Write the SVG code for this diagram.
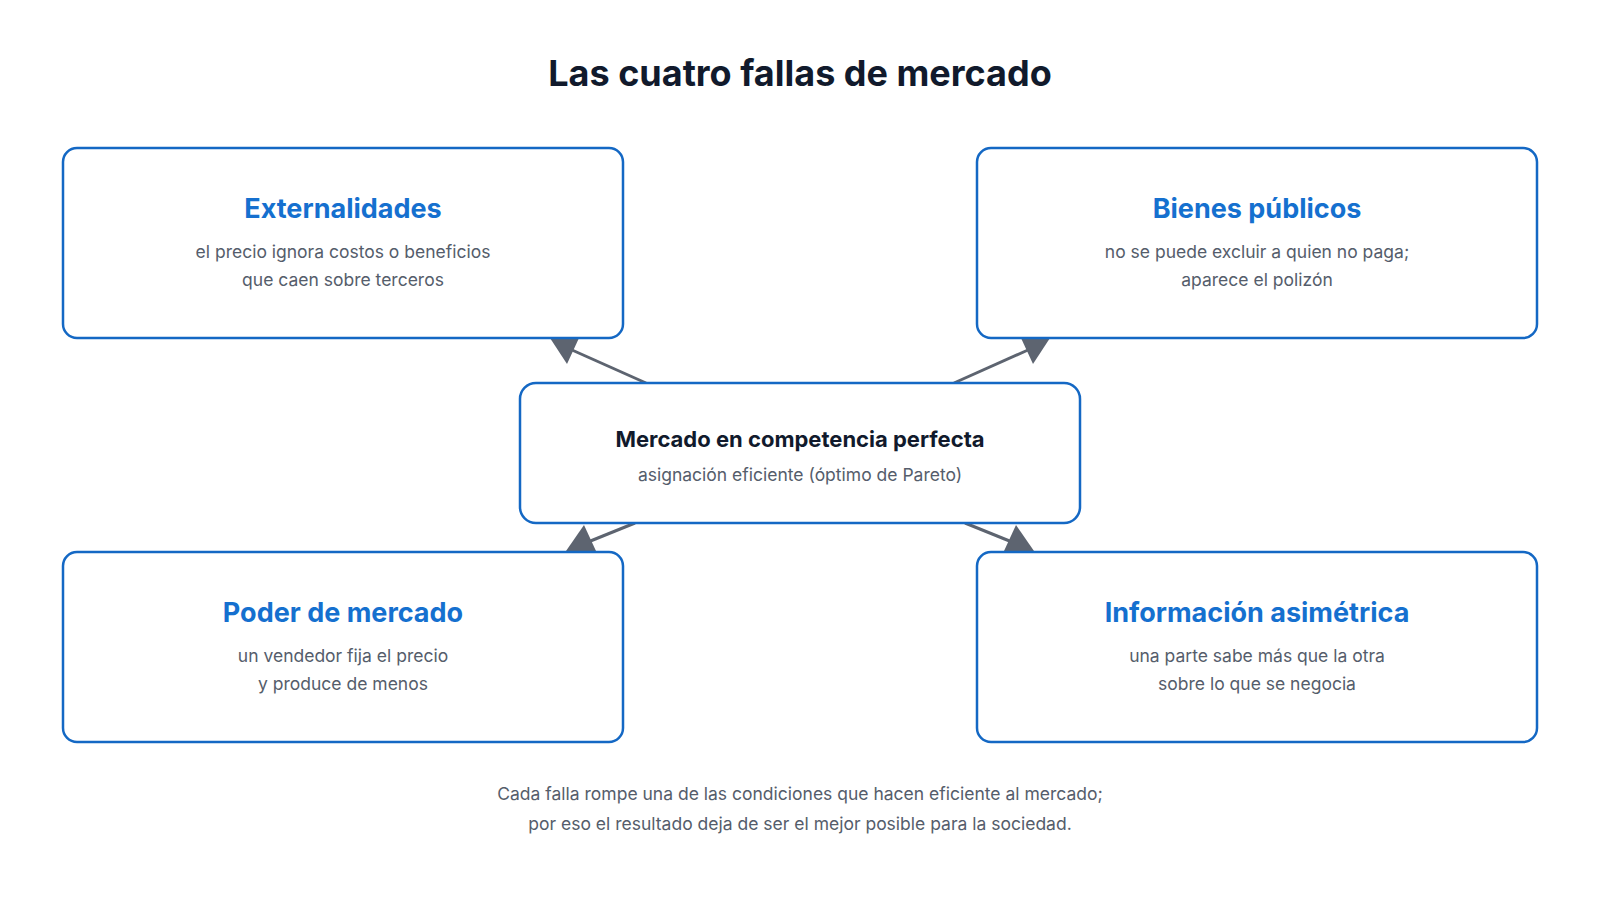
<svg xmlns="http://www.w3.org/2000/svg" width="1600" height="900" viewBox="0 0 1600 900">
<style>
.box{fill:#fff;stroke:#1468c4;stroke-width:2.5}
.t{font-family:Inter,"Liberation Sans",sans-serif;font-weight:bold;font-size:27px;fill:#1570cf;text-anchor:middle}
.d{font-family:Inter,"Liberation Sans",sans-serif;font-size:17.5px;fill:#555d6b;text-anchor:middle}
.c{stroke:#5d6470;stroke-width:3;fill:none}
.h{fill:#5d6470}
</style>
<rect width="1600" height="900" fill="#fff"/>
<text x="800" y="86" text-anchor="middle" font-family="Inter,'Liberation Sans',sans-serif" font-weight="bold" font-size="36" fill="#111a2c">Las cuatro fallas de mercado</text>
<g id="connectors">
<line class="c" x1="646" y1="383" x2="572" y2="350"/>
<path class="h" d="M550,338 L579,338 L567,364 z"/>
<line class="c" x1="954" y1="383" x2="1028" y2="350"/>
<path class="h" d="M1021,338 L1050,338 L1033,364 z"/>
<line class="c" x1="635" y1="523" x2="588" y2="542"/>
<path class="h" d="M584,525 L566,551 L596,551 z"/>
<line class="c" x1="965" y1="523" x2="1012" y2="542"/>
<path class="h" d="M1016,525 L1004,551 L1034,551 z"/>
</g>
<g id="externalidades"><rect class="box" x="63" y="148" width="560" height="190" rx="14"/>
<text class="t" x="343" y="218">Externalidades</text>
<text class="d" x="343" y="258">el precio ignora costos o beneficios</text>
<text class="d" x="343" y="286">que caen sobre terceros</text></g>
<g id="bienes"><rect class="box" x="977" y="148" width="560" height="190" rx="14"/>
<text class="t" x="1257" y="218">Bienes públicos</text>
<text class="d" x="1257" y="258">no se puede excluir a quien no paga;</text>
<text class="d" x="1257" y="286">aparece el polizón</text></g>
<g id="poder"><rect class="box" x="63" y="552" width="560" height="190" rx="14"/>
<text class="t" x="343" y="622">Poder de mercado</text>
<text class="d" x="343" y="662">un vendedor fija el precio</text>
<text class="d" x="343" y="690">y produce de menos</text></g>
<g id="informacion"><rect class="box" x="977" y="552" width="560" height="190" rx="14"/>
<text class="t" x="1257" y="622">Información asimétrica</text>
<text class="d" x="1257" y="662">una parte sabe más que la otra</text>
<text class="d" x="1257" y="690">sobre lo que se negocia</text></g>
<g id="mercado"><rect class="box" x="520" y="383" width="560" height="140" rx="16"/>
<text x="800" y="447" text-anchor="middle" font-family="Inter,'Liberation Sans',sans-serif" font-weight="bold" font-size="22" fill="#111a2c">Mercado en competencia perfecta</text>
<text class="d" x="800" y="481">asignación eficiente (óptimo de Pareto)</text></g>
<g id="footer">
<text class="d" x="800" y="800" font-size="19.5">Cada falla rompe una de las condiciones que hacen eficiente al mercado;</text>
<text class="d" x="800" y="830" font-size="19.5">por eso el resultado deja de ser el mejor posible para la sociedad.</text></g>
</svg>
